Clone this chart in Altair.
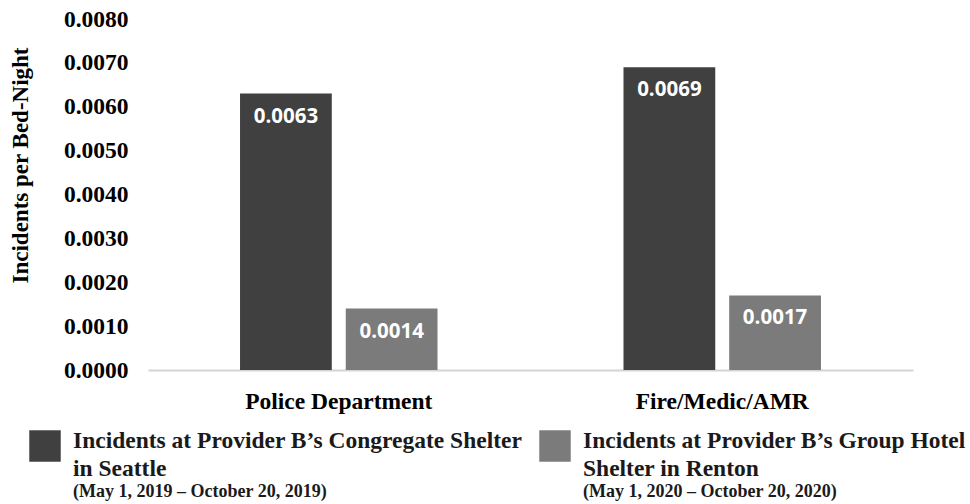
import altair as alt
import pandas as pd

# Call categories and the two shelters being compared
categories = ["Police Department", "Fire/Medic/AMR"]
series_keys = ["Congregate Shelter (Seattle)", "Group Hotel Shelter (Renton)"]
seattle_rates = [0.0063, 0.0069]
renton_rates = [0.0014, 0.0017]
y_ticks = [0.0, 0.001, 0.002, 0.003, 0.004, 0.005, 0.006, 0.007, 0.008]

# Legend wording for each shelter
legend_line1 = ["Incidents at Provider B\u2019s Congregate Shelter",
                "Incidents at Provider B\u2019s Group Hotel"]
legend_line2 = ["in Seattle", "Shelter in Renton"]
legend_dates = ["(May 1, 2019 \u2013 October 20, 2019)",
                "(May 1, 2020 \u2013 October 20, 2020)"]

bar_colors = ["#404040", "#7b7b7b"]
serif = "Liberation Serif"

rows = []
for cat, s, r in zip(categories, seattle_rates, renton_rates):
    rows.append({"category": cat, "series": series_keys[0], "value": s})
    rows.append({"category": cat, "series": series_keys[1], "value": r})
df = pd.DataFrame(rows)

legend_df = pd.DataFrame({
    "series": series_keys,
    "line1": legend_line1,
    "line2": legend_line2,
    "dates": legend_dates,
})

color = alt.Color("series:N", sort=series_keys,
                  scale=alt.Scale(domain=series_keys, range=bar_colors),
                  legend=None)

x_enc = alt.X("category:N", sort=categories,
              scale=alt.Scale(paddingInner=0.485, paddingOuter=0.24),
              axis=alt.Axis(title=None, labelAngle=0, labelFont=serif,
                            labelFontWeight="bold", labelFontSize=23.5,
                            labelColor="black", labelPadding=19,
                            labelLimit=0, ticks=False,
                            domainColor="#d4d4d4", domainWidth=2))
xoff_enc = alt.XOffset("series:N", sort=series_keys,
                       scale=alt.Scale(paddingInner=0.132, paddingOuter=0))
y_enc = alt.Y("value:Q", scale=alt.Scale(domain=[0, 0.008]),
              axis=alt.Axis(values=y_ticks, format=".4f", grid=False,
                            ticks=False, domain=False, labelFont=serif,
                            labelFontWeight="bold", labelFontSize=23.5,
                            labelColor="black", labelPadding=20,
                            title="Incidents per Bed-Night", titleFont=serif,
                            titleFontWeight="bold", titleFontSize=23,
                            titleColor="black", titleX=-128, titleY=146,
                            titleAngle=-90, titleAlign="center",
                            titleBaseline="middle"))

bars = alt.Chart(df).mark_bar().encode(
    x=x_enc, xOffset=xoff_enc, y=y_enc, color=color)

labels = alt.Chart(df).mark_text(
    baseline="middle", dy=23, color="white", font="Open Sans",
    fontWeight="bold", fontSize=20.5
).encode(
    x=alt.X("category:N", sort=categories,
            scale=alt.Scale(paddingInner=0.485, paddingOuter=0.24)),
    xOffset=xoff_enc,
    y=alt.Y("value:Q", scale=alt.Scale(domain=[0, 0.008])),
    text=alt.Text("value:Q", format=".4f"),
)

main = alt.layer(bars, labels)

# Legend placed under the plot, one entry per shelter
legend_x = alt.X("series:N", sort=series_keys, axis=None,
                 scale=alt.Scale(type="point", domain=series_keys,
                                 range=[-103, 407], padding=0))
legend_base = alt.Chart(legend_df)

swatches = legend_base.mark_square(size=990, opacity=1).encode(
    x=legend_x, y=alt.value(427), color=color)

text_style = dict(align="left", baseline="middle", font=serif,
                  fontWeight="bold", color="#1a1a1a")
title1 = legend_base.mark_text(dx=28, fontSize=23.5, **text_style).encode(
    x=legend_x, y=alt.value(422), text="line1:N")
title2 = legend_base.mark_text(dx=28, fontSize=23.5, **text_style).encode(
    x=legend_x, y=alt.value(450), text="line2:N")
dates = legend_base.mark_text(dx=28, fontSize=18, **text_style).encode(
    x=legend_x, y=alt.value(473), text="dates:N")

legend = alt.layer(swatches, title1, title2, dates)

chart = alt.layer(main, legend).resolve_scale(x="independent").properties(
    width=765,
    height=351,
    autosize=alt.AutoSizeParams(type="none"),
    padding={"left": 148, "top": 19, "right": 57, "bottom": 134},
).configure_view(stroke=None)

chart.save("out.html", embed_options={"renderer": "svg", "actions": False})
